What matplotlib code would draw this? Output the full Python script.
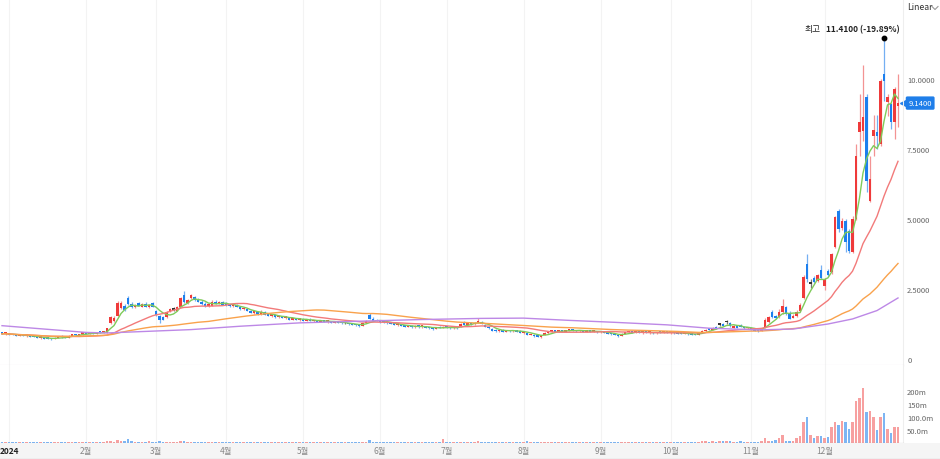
import matplotlib.pyplot as plt
import matplotlib.transforms as mtrans
from matplotlib.lines import Line2D
import numpy as np
import pandas as pd

plt.rcParams['font.family'] = ['Noto Sans CJK KR', 'DejaVu Sans']

# daily candles (trading-day index 0..256)
opens = [0.92, 0.90, 0.91, 0.88, 0.86, 0.84, 0.85, 0.83, 0.84, 0.81,
         0.78, 0.76, 0.77, 0.73, 0.72, 0.71, 0.76, 0.80, 0.78, 0.77,
         0.83, 0.86, 0.85, 0.90, 0.92, 0.90, 0.94, 0.92, 0.95, 0.94,
         0.95, 1.28, 1.36, 1.55, 1.82, 1.92, 2.18, 1.98, 1.85, 2.00,
         1.88, 1.98, 1.85, 2.00, 1.72, 1.55, 1.50, 1.50, 1.70, 1.76,
         1.72, 1.88, 2.28, 2.02, 2.18, 2.22, 2.12, 2.06, 1.98, 1.90,
         1.92, 2.05, 1.98, 2.03, 1.96, 1.94, 1.90, 1.93, 1.86, 1.78,
         1.80, 1.72, 1.66, 1.68, 1.60, 1.68, 1.58, 1.55, 1.57, 1.50,
         1.53, 1.47, 1.49, 1.42, 1.46, 1.40, 1.43, 1.38, 1.42, 1.36,
         1.38, 1.34, 1.37, 1.33, 1.36, 1.31, 1.33, 1.30, 1.28, 1.28,
         1.25, 1.23, 1.21, 1.19, 1.30, 1.58, 1.45, 1.40, 1.36, 1.33,
         1.32, 1.28, 1.26, 1.22, 1.24, 1.19, 1.16, 1.18, 1.14, 1.18,
         1.15, 1.17, 1.13, 1.10, 1.07, 1.14, 1.11, 1.15, 1.12, 1.10,
         1.12, 1.14, 1.30, 1.24, 1.30, 1.25, 1.28, 1.33, 1.22, 1.15,
         1.08, 1.03, 1.00, 1.04, 0.99, 1.03, 1.00, 1.02, 0.98, 0.95,
         0.93, 0.86, 0.88, 0.82, 0.80, 0.85, 0.93, 0.98, 1.00, 0.98,
         1.01, 0.99, 1.02, 1.05, 1.02, 1.00, 1.02, 0.99, 1.01, 0.98,
         0.99, 0.96, 0.98, 0.94, 0.90, 0.89, 0.86, 0.82, 0.90, 0.96,
         0.98, 0.95, 0.97, 0.94, 0.96, 0.94, 0.95, 0.93, 0.96, 0.95,
         0.97, 0.94, 0.96, 0.93, 0.92, 0.90, 0.92, 0.89, 0.88, 0.85,
         0.93, 1.00, 1.08, 1.05, 1.14, 1.24, 1.27, 1.32, 1.30, 1.12,
         1.20, 1.20, 1.15, 1.10, 1.13, 1.07, 1.02, 1.00, 1.15, 1.32,
         1.70, 1.55, 1.52, 1.70, 1.85, 1.65, 1.48, 1.55, 1.72, 2.20,
         3.40, 2.70, 2.90, 2.80, 3.20, 2.60, 3.15, 3.10, 4.00, 5.28,
         4.70, 4.93, 4.57, 3.82, 5.00, 8.10, 8.14, 9.36, 5.64, 7.96,
         8.10, 7.68, 10.18, 9.18, 9.10, 8.46, 9.05]
highs = [0.95, 0.93, 0.93, 0.90, 0.89, 0.87, 0.88, 0.86, 0.86, 0.84,
         0.81, 0.79, 0.79, 0.76, 0.75, 0.77, 0.82, 0.84, 0.82, 0.84,
         0.88, 0.90, 0.91, 0.94, 0.95, 0.95, 0.97, 0.97, 0.98, 0.97,
         1.12, 1.52, 1.55, 2.08, 2.08, 1.98, 2.25, 2.02, 1.98, 2.05,
         2.00, 2.02, 1.98, 2.04, 1.75, 1.58, 1.55, 1.72, 1.82, 1.85,
         1.88, 2.22, 2.43, 2.15, 2.32, 2.26, 2.18, 2.10, 2.02, 1.96,
         2.10, 2.10, 2.06, 2.06, 2.02, 1.98, 1.96, 1.95, 1.90, 1.84,
         1.82, 1.76, 1.72, 1.70, 1.74, 1.70, 1.62, 1.60, 1.60, 1.56,
         1.55, 1.52, 1.51, 1.48, 1.48, 1.45, 1.46, 1.44, 1.45, 1.40,
         1.40, 1.40, 1.39, 1.38, 1.37, 1.35, 1.36, 1.33, 1.31, 1.30,
         1.28, 1.26, 1.23, 1.30, 1.38, 1.66, 1.50, 1.44, 1.40, 1.36,
         1.35, 1.31, 1.28, 1.26, 1.26, 1.22, 1.20, 1.20, 1.20, 1.20,
         1.19, 1.19, 1.16, 1.13, 1.16, 1.17, 1.17, 1.17, 1.16, 1.14,
         1.15, 1.30, 1.34, 1.30, 1.33, 1.32, 1.46, 1.35, 1.24, 1.18,
         1.10, 1.07, 1.06, 1.06, 1.05, 1.05, 1.04, 1.04, 1.02, 0.99,
         0.95, 0.92, 0.90, 0.86, 0.85, 0.95, 1.00, 1.02, 1.04, 1.03,
         1.04, 1.04, 1.07, 1.08, 1.05, 1.04, 1.04, 1.03, 1.03, 1.02,
         1.01, 1.00, 1.00, 0.96, 0.93, 0.92, 0.89, 0.92, 0.98, 1.00,
         1.00, 0.99, 0.99, 0.98, 0.99, 0.97, 0.97, 0.97, 1.00, 0.98,
         0.99, 0.97, 0.98, 0.96, 0.95, 0.94, 0.94, 0.92, 0.91, 0.95,
         1.02, 1.07, 1.12, 1.14, 1.18, 1.30, 1.30, 1.40, 1.32, 1.20,
         1.22, 1.24, 1.18, 1.16, 1.15, 1.10, 1.06, 1.12, 1.45, 1.55,
         1.75, 1.58, 1.80, 2.14, 1.90, 1.70, 1.60, 1.75, 2.00, 3.00,
         3.75, 2.85, 2.95, 3.05, 3.35, 2.90, 3.20, 3.80, 5.10, 5.35,
         5.05, 5.00, 4.65, 5.10, 7.68, 9.46, 10.50, 9.45, 7.25, 8.70,
         8.70, 10.00, 11.41, 9.45, 9.15, 9.70, 10.18]
lows = [0.89, 0.87, 0.86, 0.84, 0.83, 0.82, 0.82, 0.80, 0.80, 0.77,
        0.75, 0.73, 0.72, 0.70, 0.69, 0.70, 0.74, 0.76, 0.75, 0.76,
        0.81, 0.83, 0.84, 0.87, 0.88, 0.88, 0.90, 0.91, 0.92, 0.92,
        0.94, 1.26, 1.33, 1.52, 1.78, 1.70, 1.92, 1.82, 1.82, 1.88,
        1.85, 1.85, 1.82, 1.86, 1.55, 1.30, 1.38, 1.48, 1.68, 1.70,
        1.70, 1.86, 2.00, 1.98, 2.15, 2.08, 2.02, 1.94, 1.86, 1.85,
        1.90, 1.95, 1.95, 1.92, 1.90, 1.86, 1.85, 1.84, 1.76, 1.74,
        1.70, 1.64, 1.62, 1.58, 1.58, 1.56, 1.52, 1.50, 1.48, 1.46,
        1.45, 1.43, 1.40, 1.40, 1.38, 1.36, 1.36, 1.35, 1.34, 1.33,
        1.32, 1.32, 1.31, 1.30, 1.29, 1.28, 1.28, 1.26, 1.25, 1.23,
        1.21, 1.19, 1.16, 1.18, 1.28, 1.42, 1.36, 1.34, 1.30, 1.28,
        1.26, 1.24, 1.20, 1.18, 1.17, 1.14, 1.13, 1.12, 1.12, 1.12,
        1.11, 1.11, 1.08, 1.05, 1.06, 1.09, 1.10, 1.10, 1.08, 1.07,
        1.08, 1.13, 1.22, 1.22, 1.22, 1.23, 1.27, 1.24, 1.13, 1.08,
        1.00, 0.98, 0.97, 0.97, 0.97, 0.98, 0.96, 0.96, 0.92, 0.90,
        0.86, 0.84, 0.80, 0.77, 0.75, 0.84, 0.91, 0.95, 0.96, 0.96,
        0.97, 0.97, 1.00, 1.00, 0.98, 0.97, 0.97, 0.96, 0.96, 0.95,
        0.94, 0.94, 0.92, 0.88, 0.86, 0.84, 0.80, 0.81, 0.89, 0.93,
        0.93, 0.92, 0.92, 0.91, 0.92, 0.90, 0.91, 0.91, 0.93, 0.92,
        0.93, 0.91, 0.91, 0.90, 0.88, 0.88, 0.87, 0.86, 0.84, 0.84,
        0.92, 0.98, 1.02, 1.03, 1.08, 1.18, 1.18, 1.25, 1.15, 1.10,
        1.10, 1.13, 1.08, 1.06, 1.05, 1.00, 0.98, 0.99, 1.12, 1.28,
        1.45, 1.44, 1.48, 1.62, 1.58, 1.42, 1.45, 1.50, 1.68, 2.15,
        2.75, 2.55, 2.70, 2.75, 2.85, 2.45, 2.95, 3.05, 3.95, 4.55,
        4.60, 3.82, 3.80, 3.78, 4.95, 7.25, 7.80, 5.96, 5.60, 7.25,
        7.50, 7.60, 9.20, 8.68, 8.20, 7.86, 8.30]
closes = [0.90, 0.91, 0.88, 0.85, 0.84, 0.85, 0.83, 0.84, 0.81, 0.78,
          0.76, 0.77, 0.73, 0.72, 0.71, 0.76, 0.80, 0.78, 0.77, 0.83,
          0.86, 0.85, 0.90, 0.92, 0.90, 0.94, 0.92, 0.95, 0.94, 0.95,
          1.10, 1.50, 1.48, 2.02, 2.02, 1.75, 1.98, 1.85, 1.95, 1.90,
          1.98, 1.88, 1.95, 1.88, 1.58, 1.40, 1.42, 1.68, 1.78, 1.76,
          1.85, 2.18, 2.05, 2.10, 2.28, 2.12, 2.06, 1.98, 1.90, 1.92,
          2.06, 1.98, 2.03, 1.95, 1.94, 1.90, 1.93, 1.86, 1.78, 1.80,
          1.72, 1.66, 1.68, 1.60, 1.70, 1.58, 1.55, 1.57, 1.50, 1.53,
          1.47, 1.49, 1.42, 1.46, 1.40, 1.43, 1.38, 1.42, 1.36, 1.38,
          1.34, 1.37, 1.33, 1.36, 1.31, 1.33, 1.30, 1.28, 1.28, 1.25,
          1.23, 1.21, 1.19, 1.28, 1.36, 1.45, 1.38, 1.36, 1.33, 1.32,
          1.28, 1.26, 1.22, 1.24, 1.19, 1.16, 1.18, 1.14, 1.18, 1.15,
          1.17, 1.13, 1.10, 1.07, 1.14, 1.11, 1.15, 1.12, 1.10, 1.12,
          1.10, 1.27, 1.24, 1.28, 1.25, 1.30, 1.38, 1.26, 1.15, 1.10,
          1.02, 1.00, 1.04, 0.99, 1.03, 1.00, 1.02, 0.98, 0.95, 0.97,
          0.88, 0.90, 0.82, 0.79, 0.83, 0.93, 0.98, 1.00, 0.98, 1.01,
          0.99, 1.02, 1.05, 1.02, 1.00, 1.02, 0.99, 1.01, 0.98, 0.99,
          0.96, 0.98, 0.94, 0.90, 0.89, 0.86, 0.82, 0.90, 0.96, 0.98,
          0.95, 0.97, 0.94, 0.96, 0.94, 0.95, 0.93, 0.96, 0.95, 0.97,
          0.94, 0.96, 0.93, 0.92, 0.90, 0.92, 0.89, 0.88, 0.86, 0.93,
          1.00, 1.05, 1.04, 1.12, 1.10, 1.24, 1.20, 1.32, 1.18, 1.18,
          1.12, 1.15, 1.10, 1.13, 1.07, 1.02, 1.00, 1.09, 1.42, 1.50,
          1.52, 1.48, 1.68, 1.90, 1.62, 1.45, 1.55, 1.70, 1.95, 2.93,
          2.86, 2.70, 2.75, 3.00, 2.90, 2.85, 3.00, 3.75, 5.07, 4.64,
          4.93, 4.18, 3.86, 5.00, 7.25, 8.46, 8.64, 6.36, 6.43, 8.20,
          7.96, 9.93, 9.93, 9.36, 8.46, 9.64, 9.14]
# volume in millions
volumes = [2, 3, 2, 2, 3, 2, 2, 3, 2, 2, 3, 2, 2, 3, 2, 2, 3, 3, 2, 2,
           3, 2, 3, 3, 2, 3, 3, 4, 3, 4,
           9, 7, 5, 12, 8, 6, 14, 6, 5, 4, 5, 4, 6, 4, 5, 7, 4, 5, 4, 3,
           4, 6, 8, 4, 5,
           3, 2, 3, 2, 2, 3, 4, 2, 3, 2, 2, 3, 2, 2, 3, 2, 3, 2, 2, 4,
           3, 2, 2, 3, 2, 3, 2, 2, 3, 2, 2, 3, 2, 2, 3, 2, 2, 3, 2, 2,
           3, 2, 2, 3, 2, 2, 3, 2, 4, 5,
           10,
           5, 3, 2, 3, 2, 2, 3, 2, 2, 3, 2, 2, 3, 2, 2, 3, 2, 3, 2,
           4, 15,
           4, 3, 2, 3, 5, 4, 3, 3, 4, 6, 4, 3, 3, 2, 3, 2, 2, 3, 2, 3,
           2, 3, 5,
           6, 4, 3, 4, 3, 5, 3, 2, 2, 3, 2, 2, 3, 2, 2, 3, 2, 2, 3, 2,
           2, 3, 2, 2, 3, 2, 2, 3, 2, 2, 2, 3, 2, 2, 3, 2, 2, 3, 2, 2,
           3, 2, 2, 3, 2, 2, 3, 2, 3, 4,
           6, 8, 5, 9, 5, 9, 6, 8, 7, 5, 4, 6, 5, 4, 3, 4, 3, 6, 18, 9,
           7, 12,
           18, 31, 9, 9, 6, 18, 28, 82, 101, 31, 19, 28, 26, 21, 23, 60,
           82, 69, 85, 82, 55, 79, 163, 172, 211, 120, 122, 100, 51, 99,
           115, 54, 38, 60, 60]

ma120_idx = [0, 24, 30, 54, 68, 85, 108, 120, 137, 149, 162, 175, 190,
             202, 216, 226, 236, 243, 250, 256]
ma120_val = [1.19, 0.95, 0.93, 1.05, 1.17, 1.29, 1.37, 1.41, 1.45, 1.46,
             1.38, 1.31, 1.22, 1.10, 1.04, 1.07, 1.25, 1.43, 1.73, 2.18]

month_pos = [2, 24, 44, 64, 86, 108, 127, 149, 171, 191, 214, 235]
month_labels = ['2024', '2월', '3월', '4월', '5월', '6월', '7월', '8월',
                '9월', '10월', '11월', '12월']
price_ticks = [0, 2.5, 5, 7.5, 10]
vol_ticks = [50, 100, 150, 200]
vol_labels = ['50.0m', '100.0m', '150m', '200m']

W, H = 940, 460


def box(x0, y0, x1, y1):
    return [x0 / W, 1 - y1 / H, (x1 - x0) / W, (y1 - y0) / H]


fig = plt.figure(figsize=(9.4, 4.6), dpi=100)
ax = fig.add_axes(box(0, 0, 903, 366))
axv = fig.add_axes(box(0, 366, 903, 444), sharex=ax)
axd = fig.add_axes(box(0, 444, 940, 460))

o = np.array(opens)
h = np.array(highs)
l = np.array(lows)
c = np.array(closes)
idx = np.arange(len(c))
up = c > o
down = c < o
body_col = np.where(up, '#ef3a3a', np.where(down, '#1c7fee', '#333333'))
wick_col = np.where(up, '#f39393', np.where(down, '#74aff2', '#777777'))
vol_col = np.where(c >= o, '#f7a0a0', '#7db5f3')

for a in (ax, axv):
    for p in month_pos:
        a.axvline(p, color='#f3f3f3', lw=0.8, zorder=0)

ax.vlines(idx, l, h, colors=wick_col, lw=0.9, zorder=2)
ax.bar(idx, np.maximum(np.abs(c - o), 0.06), bottom=np.minimum(o, c) - 0.01,
       width=0.72, color=body_col, zorder=3)

s = pd.Series(c)
ax.plot(idx, s.rolling(5, min_periods=1).mean(), color='#7fcb5a', lw=1.0, zorder=4)
ax.plot(idx, s.rolling(20, min_periods=1).mean(), color='#f27a7a', lw=1.0, zorder=4)
ax.plot(idx, s.rolling(60, min_periods=1).mean(), color='#f9a24c', lw=1.0, zorder=4)
ax.plot(ma120_idx, ma120_val, color='#bd88e6', lw=1.0, zorder=4)

ax.set_xlim(-2 / 3.5, 901 / 3.5)
ax.set_ylim(-6 / 28, 360 / 28)
ax.yaxis.tick_right()
ax.set_yticks(price_ticks)
ax.set_yticklabels(['0' if v == 0 else f'{v:.4f}' for v in price_ticks])
ax.tick_params(axis='y', length=0, pad=3, labelsize=5.5, labelcolor='#666666')
ax.tick_params(axis='x', bottom=False, labelbottom=False)
for side in ('top', 'left'):
    ax.spines[side].set_visible(False)
ax.spines['bottom'].set_color('#dcd7e3')
ax.spines['right'].set_color('#eeeeee')

# high marker and label
hi_i = int(np.argmax(h))
hi = h[hi_i]
pct = (c[-1] - hi) / hi * 100
ax.plot(hi_i, hi + 0.05, 'o', color='black', ms=3.2, zorder=6)
ax.annotate('최고', xy=(hi_i, hi), xytext=(-63, 11), textcoords='offset pixels',
            ha='right', va='center', fontsize=6.3, color='#222222')
ax.annotate(f'{hi:.4f} ({pct:.2f}%)', xy=(hi_i, hi), xytext=(-58, 11),
            textcoords='offset pixels', ha='left', va='center', fontsize=6.0,
            fontweight='bold', color='#222222')

# last price tag
ax.text(1.006, c[-1], f'{c[-1]:.4f}', transform=ax.get_yaxis_transform(),
        ha='left', va='center', fontsize=5.5, color='white', clip_on=False,
        bbox=dict(boxstyle='round,pad=0.35,rounding_size=0.2', fc='#1f7ee9', ec='none'))
ax.plot([1.0], [c[-1]], marker='<', ms=4, color='#1f7ee9',
        transform=ax.get_yaxis_transform(), clip_on=False)

# volume
axv.bar(idx, volumes, width=0.62, color=vol_col, zorder=2)
axv.set_ylim(0, 300)
axv.yaxis.tick_right()
axv.set_yticks(vol_ticks)
axv.set_yticklabels(vol_labels)
axv.tick_params(axis='y', length=0, pad=3, labelsize=5.5, labelcolor='#666666')
axv.tick_params(axis='x', bottom=False, labelbottom=False)
for side in ('top', 'left'):
    axv.spines[side].set_visible(False)
axv.spines['bottom'].set_color('#9a9a9a')
axv.spines['right'].set_color('#eeeeee')

# date band
axd.set_facecolor('#f5f5f5')
axd.set_xticks([])
axd.set_yticks([])
for side in ('top', 'left', 'right'):
    axd.spines[side].set_visible(False)
axd.spines['bottom'].set_color('#777777')
tr = mtrans.blended_transform_factory(axv.transData, fig.transFigure)
for p, lab in zip(month_pos, month_labels):
    first = lab == '2024'
    fig.text(p, 1 - 452 / H, lab, transform=tr, ha='center',
             va='center', fontsize=6.0, fontweight='bold' if first else 'normal',
             color='#222222' if first else '#888888')

fig.text(907 / W, 1 - 8 / H, 'Linear', fontsize=6.3, va='center', color='#333333')
fig.add_artist(Line2D([932 / W, 935 / W, 938 / W], [1 - 7.5 / H, 1 - 10.5 / H, 1 - 7.5 / H],
                      color='#999999', lw=0.8))

fig.savefig('out.png', dpi=100, facecolor='white')
